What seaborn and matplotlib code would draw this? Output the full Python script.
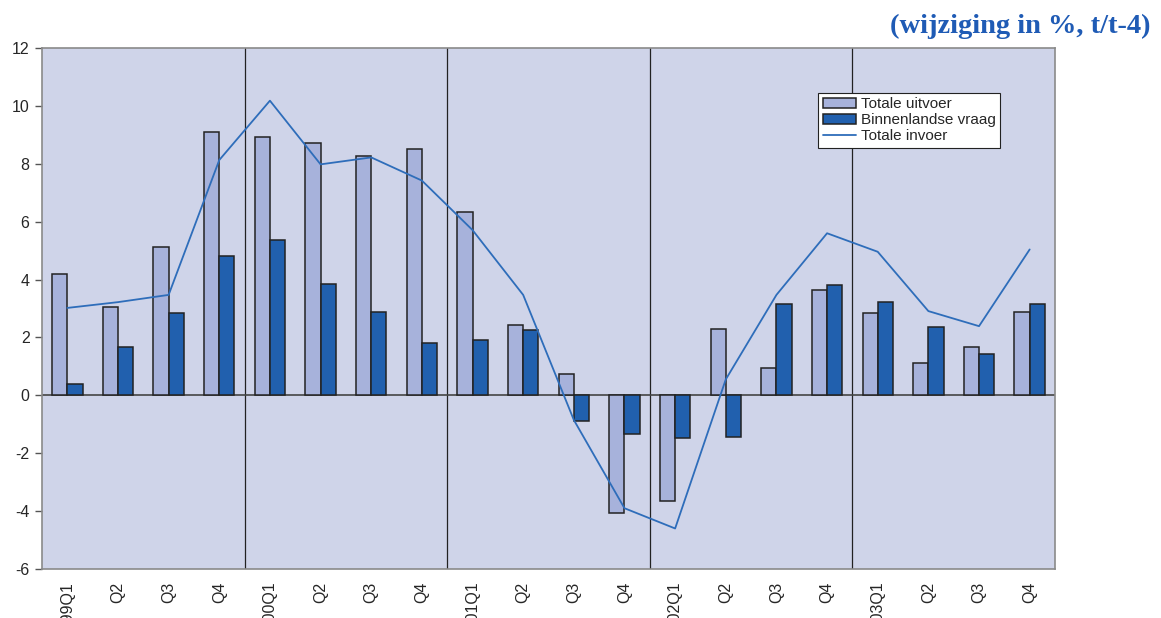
import numpy as np
import pandas as pd
import matplotlib
matplotlib.use("Agg")
import matplotlib.pyplot as plt
import seaborn as sns

# ── data ──
periods = ["1999Q1", "Q2", "Q3", "Q4",
           "2000Q1", "Q2 ", "Q3 ", "Q4 ",
           "2001Q1", "Q2  ", "Q3  ", "Q4  ",
           "2002Q1", "Q2   ", "Q3   ", "Q4   ",
           "2003Q1", "Q2    ", "Q3    ", "Q4    "]

uitvoer = [4.18, 3.05, 5.12, 9.10,
           8.93, 8.72, 8.27, 8.51,
           6.33, 2.43, 0.74, -4.06,
           -3.65, 2.29, 0.94, 3.64,
           2.84, 1.11, 1.67, 2.88]

binnenlands = [0.39, 1.67, 2.84, 4.81,
               5.37, 3.85, 2.88, 1.81,
               1.91, 2.26, -0.89, -1.34,
               -1.48, -1.44, 3.16, 3.81,
               3.22, 2.36, 1.43, 3.16]

invoer = [3.02, 3.22, 3.47, 8.13,
          10.18, 7.98, 8.22, 7.42,
          5.71, 3.47, -0.85, -3.90,
          -4.60, 0.55, 3.47, 5.60,
          4.96, 2.91, 2.39, 5.04]

series_names = ["Totale uitvoer", "Binnenlandse vraag"]
line_name = "Totale invoer"

df = pd.DataFrame({
    "period": periods * 2,
    "value": uitvoer + binnenlands,
    "series": [series_names[0]] * len(periods) + [series_names[1]] * len(periods),
})

# ── plot ──
sns.set_style("white")
plt.rcParams["font.family"] = ["Liberation Sans", "DejaVu Sans"]
plt.rcParams["axes.unicode_minus"] = False

fig = plt.figure(figsize=(11.61, 6.18), dpi=100)
ax = fig.add_axes([42 / 1161, 49 / 618, 1013 / 1161, 521 / 618])
ax.set_facecolor("#CFD4E9")

sns.barplot(data=df, x="period", y="value", hue="series", order=periods,
            hue_order=series_names, palette=["#A7B2DB", "#2160AE"],
            saturation=1, width=0.6, edgecolor="#222222", linewidth=1.1,
            ax=ax, zorder=2)

sns.lineplot(x=np.arange(len(periods)), y=invoer, color="#2E6DBA", lw=1.3,
             ax=ax, label=line_name, zorder=3)

# group separators every 4 quarters
for xs in [3.5, 7.5, 11.5, 15.5]:
    ax.axvline(xs, color="#222222", lw=0.9, zorder=1)
ax.axhline(0, color="#444444", lw=1.2, zorder=1)

ax.set_xlim(-0.5, len(periods) - 0.5)
ax.set_ylim(-6, 12)
ax.set_yticks(np.arange(-6, 13, 2))
ax.set_xlabel("")
ax.set_ylabel("")
ax.tick_params(axis="y", length=5, width=1, color="#555555", labelsize=11.5, pad=4,
               direction="out", left=True)
ax.tick_params(axis="x", length=0, labelsize=11.5, pad=9)
ax.set_xticks(np.arange(len(periods)))
ax.set_xticklabels([p.strip() for p in periods], rotation=90, va="top")

for s in ax.spines.values():
    s.set_color("#8A8A8A")
    s.set_linewidth(1.2)

leg = ax.legend(loc="upper left", bbox_to_anchor=(0.766, 0.914), frameon=True,
                fancybox=False, edgecolor="#222222", framealpha=1,
                fontsize=11, handlelength=2.2, handletextpad=0.3,
                borderpad=0.3, labelspacing=0.12, borderaxespad=0)
leg.get_frame().set_linewidth(0.8)

fig.text(0.991, 0.958, "(wijziging in %, t/t-4)", ha="right", va="center",
         fontsize=20.5, fontweight="bold", color="#1F5BB5",
         family=["Liberation Serif", "DejaVu Serif"])

fig.savefig("out.png", dpi=100)
plt.close(fig)
